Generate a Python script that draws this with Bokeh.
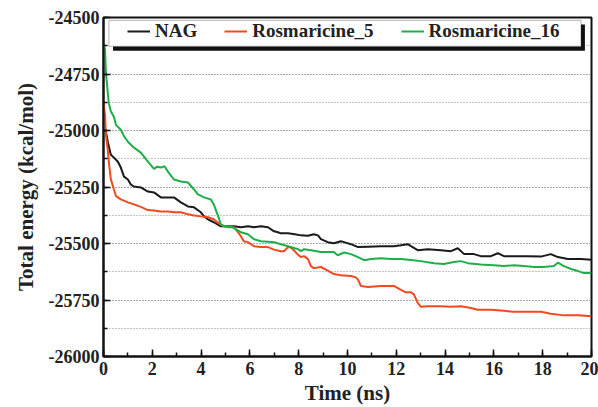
from bokeh.plotting import figure
from bokeh.models import (Legend, LegendItem, SingleIntervalTicker,
                          PrintfTickFormatter, BoxAnnotation, Range1d)
from bokeh.embed import file_html
from bokeh.resources import INLINE

# ---- data (time in ns, energy in kcal/mol) ----
t_nag = [0.0, 0.1, 0.18, 0.3, 0.43, 0.59, 0.71, 0.84, 1.0, 1.12, 1.25, 1.53, 1.82,
         2.07, 2.35, 2.64, 2.89, 3.17, 3.46, 3.71, 3.99, 4.12, 4.28, 4.52, 4.81,
         5.1, 5.35, 5.63, 5.92, 6.17, 6.45, 6.74, 6.99, 7.15, 7.27, 7.56, 7.84,
         8.09, 8.38, 8.62, 8.79, 8.91, 9.19, 9.44, 9.73, 9.86, 10.14, 10.43, 10.84,
         11.37, 11.9, 12.19, 12.47, 12.6, 12.89, 13.29, 13.83, 14.24, 14.52, 14.78,
         15.18, 15.46, 15.88, 16.16, 16.41, 16.82, 17.39, 17.93, 18.33, 18.62,
         19.03, 19.57, 20.0]
e_nag = [-24995, -25006, -25052, -25107, -25120, -25138, -25164, -25204, -25217,
         -25239, -25248, -25252, -25270, -25274, -25296, -25296, -25296, -25318,
         -25336, -25340, -25362, -25380, -25393, -25406, -25424, -25424, -25424,
         -25428, -25424, -25428, -25424, -25428, -25446, -25450, -25455, -25455,
         -25459, -25464, -25466, -25459, -25464, -25481, -25494, -25499, -25490,
         -25494, -25503, -25516, -25514, -25512, -25512, -25508, -25503, -25512,
         -25530, -25525, -25530, -25534, -25521, -25547, -25547, -25556, -25556,
         -25543, -25556, -25556, -25556, -25558, -25547, -25560, -25569, -25569,
         -25572]

t_r5 = [0.0, 0.06, 0.1, 0.18, 0.22, 0.3, 0.43, 0.51, 0.59, 0.71, 1.0, 1.25, 1.53,
        1.82, 2.07, 2.35, 2.64, 2.89, 3.17, 3.46, 3.71, 3.99, 4.28, 4.52, 4.81,
        5.1, 5.35, 5.51, 5.63, 5.75, 5.92, 6.17, 6.45, 6.74, 6.99, 7.27, 7.4,
        7.56, 7.68, 7.84, 7.97, 8.09, 8.22, 8.38, 8.5, 8.62, 8.91, 9.19, 9.44,
        9.73, 10.14, 10.34, 10.43, 10.55, 10.84, 11.37, 11.9, 12.19, 12.39, 12.6,
        12.72, 12.89, 13.01, 13.29, 13.83, 14.24, 14.65, 15.06, 15.34, 15.88,
        16.41, 16.82, 17.39, 17.93, 18.33, 18.87, 19.45, 20.0]
e_r5 = [-24874, -24931, -25019, -25090, -25142, -25215, -25262, -25290, -25296,
        -25305, -25318, -25327, -25338, -25352, -25354, -25358, -25358, -25362,
        -25362, -25371, -25376, -25380, -25384, -25393, -25418, -25428, -25428,
        -25450, -25468, -25490, -25494, -25512, -25516, -25516, -25527, -25534,
        -25534, -25516, -25518, -25534, -25550, -25560, -25556, -25569, -25600,
        -25609, -25604, -25620, -25635, -25640, -25644, -25650, -25660, -25688,
        -25692, -25688, -25688, -25705, -25716, -25716, -25725, -25765, -25780,
        -25778, -25778, -25780, -25778, -25785, -25793, -25793, -25798, -25802,
        -25802, -25802, -25811, -25818, -25818, -25822]

t_r16 = [0.0, 0.06, 0.1, 0.18, 0.22, 0.3, 0.43, 0.51, 0.71, 0.84, 1.0, 1.25, 1.53,
         1.82, 2.07, 2.2, 2.35, 2.5, 2.64, 2.89, 3.17, 3.46, 3.71, 3.87, 4.12,
         4.4, 4.52, 4.7, 4.81, 4.94, 5.22, 5.63, 5.92, 6.17, 6.45, 6.74, 6.99,
         7.27, 7.56, 7.84, 7.97, 8.09, 8.22, 8.5, 8.91, 9.44, 9.6, 9.86, 10.14,
         10.43, 10.68, 10.96, 11.37, 11.77, 12.19, 12.6, 13.01, 13.54, 13.95,
         14.36, 14.65, 14.93, 15.46, 16.0, 16.41, 16.82, 17.23, 17.64, 18.05,
         18.46, 18.62, 18.87, 19.16, 19.45, 19.69, 20.0]
e_r16 = [-24610, -24640, -24742, -24840, -24880, -24915, -24940, -24975, -24997,
         -25025, -25050, -25076, -25098, -25138, -25170, -25160, -25164, -25158,
         -25182, -25217, -25226, -25230, -25261, -25283, -25296, -25305, -25327,
         -25380, -25415, -25424, -25424, -25450, -25459, -25481, -25490, -25492,
         -25494, -25503, -25512, -25521, -25525, -25534, -25525, -25530, -25538,
         -25538, -25552, -25540, -25547, -25560, -25574, -25569, -25565, -25569,
         -25569, -25573, -25578, -25587, -25591, -25582, -25578, -25587, -25593,
         -25596, -25600, -25596, -25600, -25604, -25604, -25600, -25585, -25600,
         -25613, -25622, -25631, -25630]

series_names = ["NAG", "Rosmaricine_5", "Rosmaricine_16"]
x_title = "Time (ns)"
y_title = "Total energy (kcal/mol)"

FONT = "Liberation Serif"
colors = ["#1a1a1a", "#f04a1e", "#1fae48"]

p = figure(width=598, height=407, output_backend="svg", toolbar_location=None,
           x_range=Range1d(0, 20), y_range=Range1d(-26000, -24500),
           min_border_left=103, min_border_right=7, min_border_top=17,
           min_border_bottom=49)
p.background_fill_color = "white"
p.border_fill_color = "white"
p.outline_line_color = "#111111"
p.outline_line_width = 2

# axes
p.xaxis.ticker = SingleIntervalTicker(interval=2, num_minor_ticks=2)
p.yaxis.ticker = SingleIntervalTicker(interval=250, num_minor_ticks=2)
p.yaxis.formatter = PrintfTickFormatter(format="%d")
for ax in (p.xaxis[0], p.yaxis[0]):
    ax.axis_line_color = "#111111"
    ax.axis_line_width = 2
    ax.major_tick_in = 7
    ax.major_tick_out = 0
    ax.minor_tick_in = 4
    ax.minor_tick_out = 0
    ax.major_tick_line_color = "#111111"
    ax.minor_tick_line_color = "#111111"
    ax.major_tick_line_width = 1.5
    ax.minor_tick_line_width = 1.5
    ax.major_label_text_font = FONT
    ax.major_label_text_font_style = "bold"
    ax.major_label_text_font_size = "18px"
    ax.major_label_text_color = "#222222"
    ax.axis_label_text_font = FONT
    ax.axis_label_text_font_style = "bold"
    ax.axis_label_text_font_size = "21px"
    ax.axis_label_text_color = "#222222"
p.xaxis.axis_label = x_title
p.yaxis.axis_label = y_title
p.xaxis.major_label_standoff = 5
p.xaxis.axis_label_standoff = 3
p.yaxis.major_label_standoff = 4
p.yaxis.axis_label_standoff = 8

# grid
p.xgrid.grid_line_color = None
p.ygrid.grid_line_color = "#8a8a8a"
p.ygrid.grid_line_dash = "1 2"
p.ygrid.grid_line_width = 1
p.ygrid.minor_grid_line_color = "#8a8a8a"
p.ygrid.minor_grid_line_dash = "1 2"

# lines
r_nag = p.line(t_nag, e_nag, line_color=colors[0], line_width=2)
r_r5 = p.line(t_r5, e_r5, line_color=colors[1], line_width=2)
r_r16 = p.line(t_r16, e_r16, line_color=colors[2], line_width=2)

# legend frame with drop shadow
shadow = BoxAnnotation(left=0.39, right=19.73, top=-24531, bottom=-24647,
                       fill_color="#111111", fill_alpha=1, line_color=None)
frame = BoxAnnotation(left=0.22, right=19.57, top=-24513, bottom=-24628,
                      fill_color="white", fill_alpha=1, line_color="#333333",
                      line_width=1.2)
p.add_layout(shadow)
p.add_layout(frame)

legend = Legend(items=[LegendItem(label=series_names[0], renderers=[r_nag]),
                       LegendItem(label=series_names[1], renderers=[r_r5]),
                       LegendItem(label=series_names[2], renderers=[r_r16])],
                orientation="horizontal", location=(24, 314),
                label_text_font=FONT, label_text_font_style="bold",
                label_text_font_size="19px", label_text_color="#222222",
                glyph_width=23, glyph_height=18, label_standoff=5, spacing=27,
                padding=0, margin=0, border_line_color=None,
                background_fill_alpha=0)
p.add_layout(legend)

open("out.html", "w").write(file_html(p, INLINE))
